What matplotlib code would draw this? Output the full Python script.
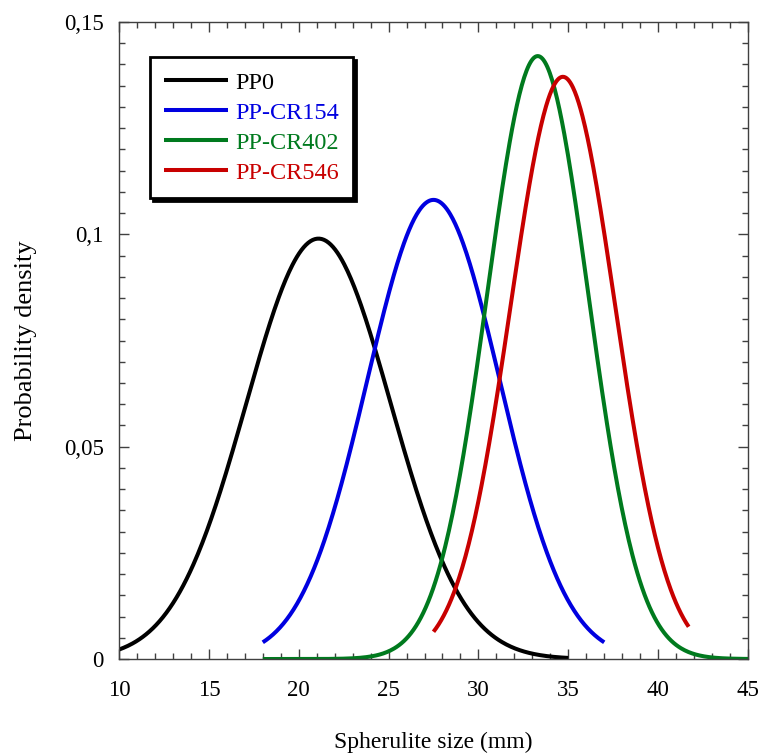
import numpy as np
import matplotlib
matplotlib.use("Agg")
import matplotlib.pyplot as plt
from matplotlib.ticker import MultipleLocator, FuncFormatter

plt.rcParams['font.family'] = ['Liberation Serif', 'DejaVu Serif']

# Fitted normal distributions of spherulite size
samples = ["PP0", "PP-CR154", "PP-CR402", "PP-CR546"]
means = [21.1, 27.5, 33.3, 34.7]
sigmas = [4.03, 3.69, 2.81, 2.91]
x_start = [10.0, 18.0, 18.0, 27.5]
x_end = [35.0, 37.0, 45.0, 41.7]
colors = ["#000000", "#0000e0", "#007a1e", "#c80000"]

fig = plt.figure(figsize=(7.59, 7.53), dpi=100)
ax = fig.add_axes([0.1568, 0.1248, 0.8287, 0.846])

for name, mu, sd, a, b, c in zip(samples, means, sigmas, x_start, x_end, colors):
    x = np.linspace(a, b, 400)
    y = np.exp(-0.5 * ((x - mu) / sd) ** 2) / (sd * np.sqrt(2 * np.pi))
    ax.plot(x, y, color=c, lw=2.9, label=name, solid_capstyle='butt')

ax.set_xlim(10, 45)
ax.set_ylim(0, 0.15)
ax.xaxis.set_major_locator(MultipleLocator(5))
ax.xaxis.set_minor_locator(MultipleLocator(1))
ax.yaxis.set_major_locator(MultipleLocator(0.05))
ax.yaxis.set_minor_locator(MultipleLocator(0.005))

def yfmt(v, pos):
    s = f"{v:.2f}".rstrip('0').rstrip('.')
    return s.replace('.', ',')

ax.yaxis.set_major_formatter(FuncFormatter(yfmt))

axis_col = "#404040"
for sp in ax.spines.values():
    sp.set_color(axis_col)
    sp.set_linewidth(1.0)
ax.tick_params(which='both', direction='in', top=True, right=True, color=axis_col,
               labelsize=16.5)
ax.tick_params(which='major', length=7, width=1.0)
ax.tick_params(which='minor', length=4, width=1.0)
ax.tick_params(axis='x', which='major', pad=15)
ax.tick_params(axis='y', which='major', pad=11)

ax.set_xlabel("Spherulite size (mm)", fontsize=17, labelpad=22)
ax.set_ylabel("Probability density", fontsize=19, labelpad=19)

leg = ax.legend(loc='upper left', bbox_to_anchor=(0.049, 0.945), fontsize=17.5,
                frameon=True, fancybox=False, shadow={'color': 'black', 'alpha': 1.0},
                edgecolor='black', handlelength=2.6, handletextpad=0.3,
                labelspacing=0.33, borderpad=0.6, borderaxespad=0)
leg.get_frame().set_linewidth(2.0)
for t, c in zip(leg.get_texts(), colors):
    t.set_color(c)

fig.savefig("out.png", dpi=100)
